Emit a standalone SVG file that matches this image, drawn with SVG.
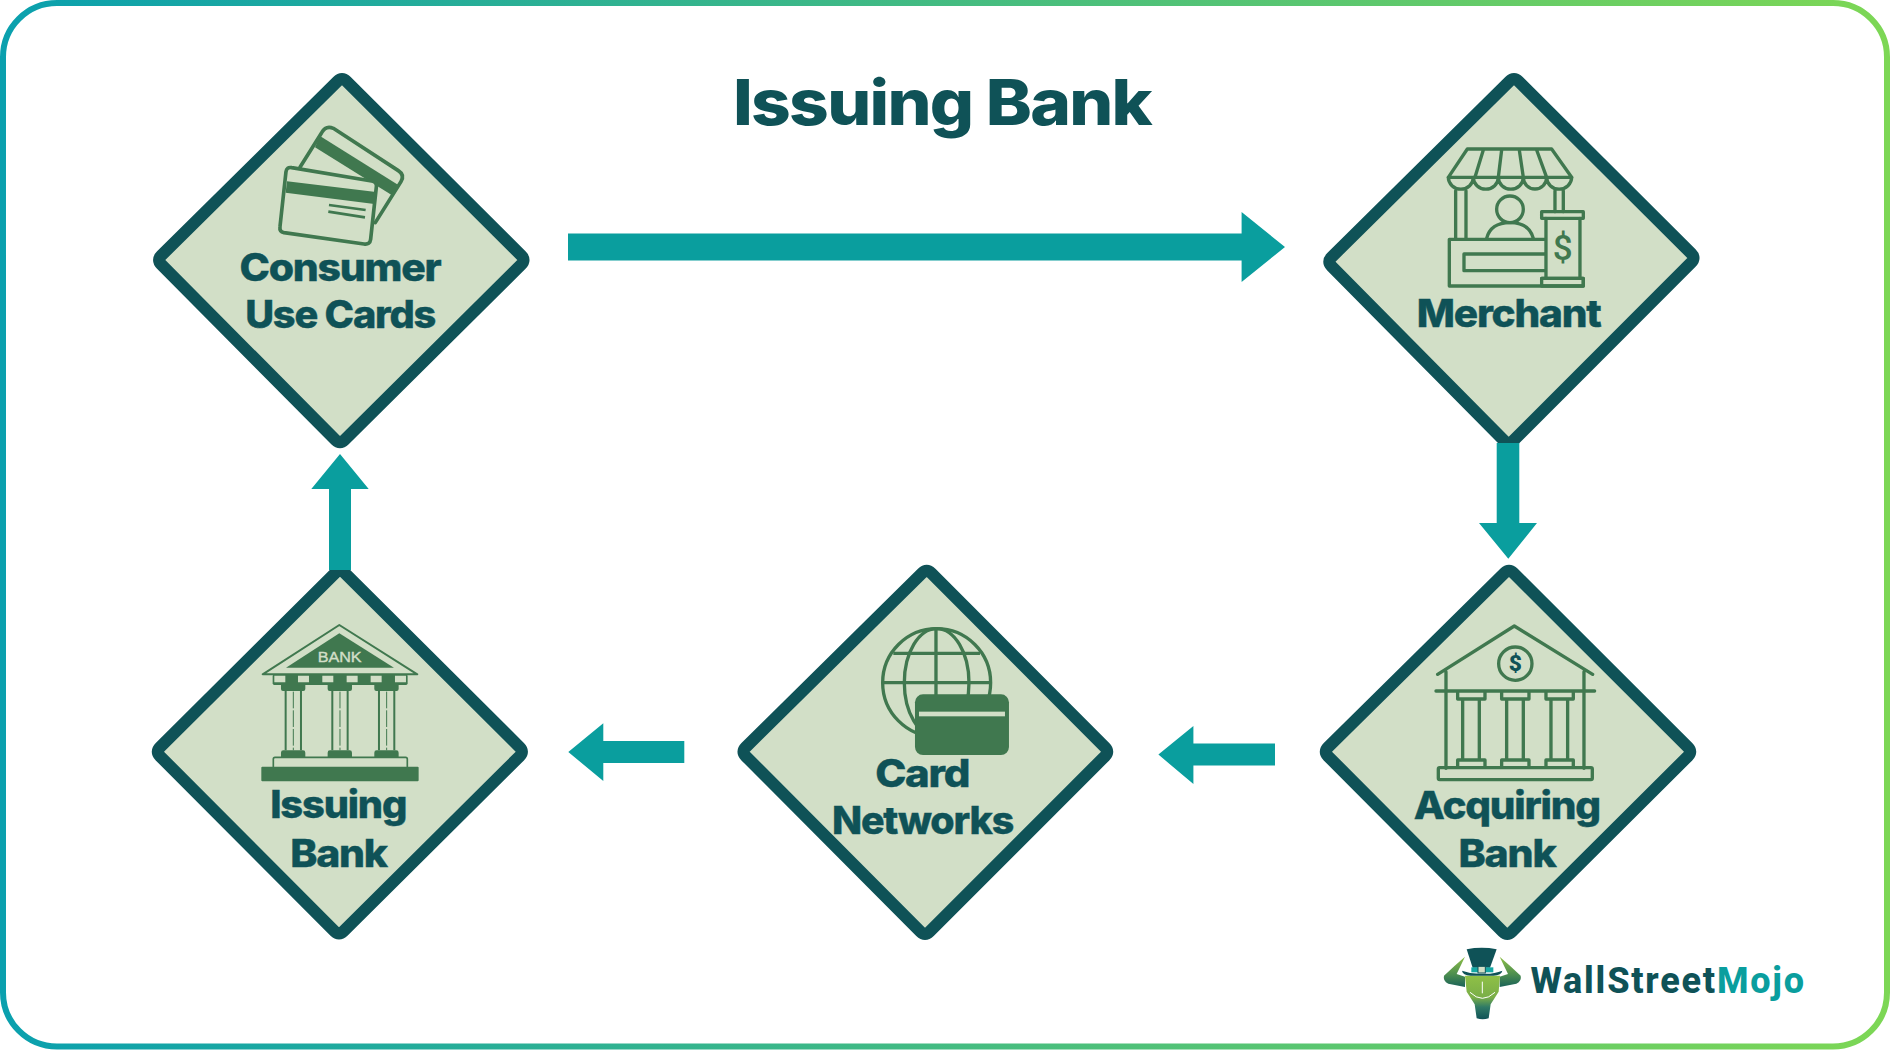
<svg xmlns="http://www.w3.org/2000/svg" width="1890" height="1050" viewBox="0 0 1890 1050">
<style>
.d{fill:#d2dfc7;stroke:#0f5257;stroke-width:12;stroke-linejoin:round}
.t{font-family:"Inter","Liberation Sans",sans-serif;font-weight:800;font-size:38px;letter-spacing:-.03em;fill:#0f5257;stroke:#0f5257;stroke-width:.4}
.i{fill:none;stroke:#40784f;stroke-width:10;stroke-linecap:round;stroke-linejoin:round}
.f{fill:#40784f}
.l{fill:#d2dfc7}
.a{fill:#0a9e9e}
.dl{font-family:"Roboto","Liberation Sans",sans-serif}
</style>
<defs>
<linearGradient id="bg" gradientUnits="userSpaceOnUse" x1="0" y1="0" x2="1890" y2="0">
<stop offset="0" stop-color="#0aa0ae"/><stop offset="1" stop-color="#7dd755"/>
</linearGradient>
<linearGradient id="bull" x1="0" y1="0" x2="0" y2="1">
<stop offset="0" stop-color="#8fc046"/><stop offset=".5" stop-color="#7aae48"/><stop offset=".72" stop-color="#2f7a66"/><stop offset="1" stop-color="#0f5257"/>
</linearGradient>
<linearGradient id="arm" x1="0" y1="0" x2="0" y2="1">
<stop offset="0" stop-color="#8fc046"/><stop offset=".6" stop-color="#4a8c50"/><stop offset="1" stop-color="#1a6258"/>
</linearGradient>
</defs>
<rect id="frame" x="3" y="3" width="1884" height="1043.500" rx="54" fill="#fff" stroke="url(#bg)" stroke-width="6"/>
<text id="title" x="733" y="125" textLength="418" lengthAdjust="spacingAndGlyphs" style="font-family:'Inter','Liberation Sans',sans-serif;font-weight:800;font-size:63px;letter-spacing:-.025em;fill:#0f5257">Issuing Bank</text>

<g id="node-consumer">
<path class="d" d="M346.500 81.300L521.300 255.500Q525.800 260 521.300 264.500L344.500 440Q340 444.500 335.500 440L161.300 264.500Q156.800 260 161.300 255.500L337.500 81.300Q342 76.800 346.500 81.300Z"/>
<g transform="translate(140,60) scale(.3333)">
<path d="M480 322L545 218Q558 195 580 205L775 332Q795 345 783 365L706 488" class="i" style="stroke-width:11;fill:#d2dfc7"/>
<path class="f" d="M540 228L775 375L755 405L525 262Z"/>
<path d="M455 323L695 363Q712 366 709 382L692 538Q690 555 672 552L432 518Q418 515 420 500L438 335Q440 320 455 323Z" class="i" style="stroke-width:11;fill:#d2dfc7"/>
<path class="f" d="M441 364L708 396L703 432L437 398Z"/>
<path class="i" style="stroke-width:8;stroke-linecap:butt" d="M567 435L677 450M565 455L675 472"/>
</g>
<text class="t" x="239.500" y="280.700" textLength="201" lengthAdjust="spacingAndGlyphs">Consumer</text>
<text class="t" x="245.200" y="328.300" textLength="190" lengthAdjust="spacingAndGlyphs">Use Cards</text>
</g>

<g id="node-merchant">
<path class="d" d="M1518.500 81.300L1691.300 253.500Q1695.800 258 1691.300 262.500L1513.200 440.700Q1508.700 445.200 1504.200 440.700L1331.500 266.200Q1327 261.700 1331.500 257.200L1509.500 81.300Q1514 76.800 1518.500 81.300Z"/>
<g transform="translate(1310,60) scale(.3333)">
<path class="i" d="M472 267H725L785 352H415ZM520 270L495 352M575 270L565 352M628 270L640 352M680 270L710 352"/>
<path class="i" d="M415 352A37 35 0 0 0 490 352A37 35 0 0 0 565 352A37 35 0 0 0 640 352A35 35 0 0 0 710 352A37 35 0 0 0 785 352"/>
<path class="i" d="M437 392V535M468 392V535M735 392V455M760 392V455"/>
<circle class="i" cx="600" cy="448" r="40"/>
<path class="i" d="M530 535Q542 488 600 488Q658 488 670 535"/>
<path class="i" d="M705 538H418V678H820V655H695M705 582H462V632H705"/>
<path class="i" d="M708 475V652M810 475V652"/>
<path class="i" d="M695 455H820V475H695Z"/>
<path class="i" d="M695 655H820V678H695Z"/>
<text x="758" y="600" text-anchor="middle" class="dl" style="font-size:105px;font-weight:500;fill:#40784f">$</text>
</g>
<text class="t" x="1416.800" y="326.700" textLength="183.700" lengthAdjust="spacingAndGlyphs">Merchant</text>
</g>

<g id="node-acquiring-bank">
<path class="d" d="M1513.500 573L1688 747.200Q1692.500 751.700 1688 756.200L1511.800 931.700Q1507.300 936.200 1502.800 931.700L1328 756.200Q1323.500 751.700 1328 747.200L1504.500 573Q1509 568.500 1513.500 573Z"/>
<g transform="translate(1310,555) scale(.3333)">
<path class="i" d="M383 358L613 213L848 358M408 350V640M822 350V640M378 408H854"/>
<circle class="i" cx="616" cy="326" r="50"/>
<text x="616" y="349" text-anchor="middle" class="dl" style="font-size:68px;font-weight:900;fill:#0f5257">$</text>
<path class="i" d="M443 412V432H525V412M458 432V615M508 432V615M443 635V615H525V635"/>
<path class="i" d="M575 412V432H657V412M590 432V615M640 432V615M575 635V615H657V635"/>
<path class="i" d="M708 412V432H790V412M723 432V615M773 432V615M708 635V615H790V635"/>
<rect class="i" x="385" y="638" width="462" height="36" rx="4"/>
</g>
<text class="t" x="1413.800" y="819" textLength="186" lengthAdjust="spacingAndGlyphs">Acquiring</text>
<text class="t" x="1458.500" y="866.700" textLength="97" lengthAdjust="spacingAndGlyphs">Bank</text>
</g>

<g id="node-card-networks">
<path class="d" d="M931.200 573L1105 747.200Q1109.500 751.700 1105 756.200L929.500 931.700Q925 936.200 920.500 931.700L745.700 756.200Q741.200 751.700 745.700 747.200L922.200 573Q926.700 568.500 931.200 573Z"/>
<g transform="translate(725,555) scale(.3333)">
<circle class="i" cx="635" cy="383" r="162"/>
<ellipse class="i" cx="635" cy="383" rx="97" ry="162"/>
<path class="i" style="stroke-linecap:butt" d="M633 221V430M505 295H765M473 383H797"/>
<rect class="f" x="570" y="418" width="282" height="182" rx="24"/>
<rect class="l" x="582" y="470" width="258" height="14"/>
</g>
<text class="t" x="875.200" y="786.700" textLength="94" lengthAdjust="spacingAndGlyphs">Card</text>
<text class="t" x="832" y="834.300" textLength="181" lengthAdjust="spacingAndGlyphs">Networks</text>
</g>

<g id="node-issuing-bank">
<path class="d" d="M344.500 572.700L519.700 747.200Q524.200 751.700 519.700 756.200L343.500 931.300Q339 935.800 334.500 931.300L160 756.200Q155.500 751.700 160 747.200L335.500 572.700Q340 568.200 344.500 572.700Z"/>
<g transform="translate(140,560) scale(.3333)">
<path class="i" style="stroke-width:6" d="M598 195L368 343H832Z"/>
<path class="f" d="M598 220L438 323H762Z"/>
<text x="533" y="305" textLength="132" lengthAdjust="spacingAndGlyphs" style="font-family:'Liberation Sans',sans-serif;font-size:46px;fill:#d2dfc7;stroke:#d2dfc7;stroke-width:1.200">BANK</text>
<rect class="f" x="398" y="343" width="405" height="32" rx="5"/>
<path class="l" d="M403 347h33v20h-33zM474 347h33v20h-33zM547 347h33v20h-33zM620 347h33v20h-33zM692 347h33v20h-33zM765 347h33v20h-33z"/>
<path class="f" d="M423 375h73v12q0 6-6 6h-61q-6 0-6-6zM563 375h73v12q0 6-6 6h-61q-6 0-6-6zM703 375h73v12q0 6-6 6h-61q-6 0-6-6z"/>
<path class="f" d="M423 592v-14q0-7 7-7h59q7 0 7 7v14zM563 592v-14q0-7 7-7h59q7 0 7 7v14zM703 592v-14q0-7 7-7h59q7 0 7 7v14z"/>
<path class="i" style="stroke-width:6;stroke-linecap:butt" d="M437 393V571M483 393V571M577 393V571M623 393V571M717 393V571M763 393V571"/>
<path class="i" style="stroke-width:3;stroke-linecap:butt;stroke-dasharray:50 6" d="M460 395V571M600 395V571M740 395V571"/>
<path class="i" style="stroke-width:5" d="M400 620V597Q400 592 405 592H797Q802 592 802 597V620"/>
<rect class="f" x="364" y="620" width="472" height="44" rx="3"/>
</g>
<text class="t" x="270.200" y="818.300" textLength="136" lengthAdjust="spacingAndGlyphs">Issuing</text>
<text class="t" x="290.300" y="866.700" textLength="96.600" lengthAdjust="spacingAndGlyphs">Bank</text>
</g>

<g id="connectors">
<path class="a" d="M568 233.500H1241.600V212L1285 247L1241.600 282V260.500H568Z"/>
<path class="a" d="M1496.700 443H1519.300V523H1537L1508.300 558.700L1479 523H1496.700Z"/>
<path class="a" d="M1275 743.600H1193.400V726L1158.400 754.600L1193.400 784V765.600H1275Z"/>
<path class="a" d="M684.300 741H603.300V723.300L568.300 752L603.300 781V763H684.300Z"/>
<path class="a" d="M329 570V489H311.300L340 454L368.700 489H351V570Z"/>
</g>

<g id="logo">
<g transform="translate(1430,935) scale(.3333)">
<path fill="url(#arm)" d="M105 65Q70 95 42 122Q38 138 55 146L105 156V125L80 117Z"/>
<path fill="url(#arm)" d="M209 65Q244 95 272 122Q276 138 259 146L209 156V125L234 117Z"/>
<path fill="url(#bull)" d="M105 122H210L206 170L182 208L176 250Q158 256 140 250L134 208L110 170Z"/>
<path fill="none" stroke="#fff" stroke-width="3" d="M120 172Q157 208 195 172M157 140V175"/>
<path fill="#0f5257" d="M110 43Q155 34 200 43L180 98H128Z"/>
<path fill="#0f5257" d="M96 107Q125 118 157 116Q190 118 217 107Q215 120 190 122H122Q98 120 96 107Z"/>
<path fill="#14a8a4" d="M124 97H190V112H124Z"/>
<rect x="144" y="94" width="22" height="20" fill="#d2dfc7" stroke="#0f5257" stroke-width="3"/>
</g>
<text x="1530.500" y="992.700" textLength="273.500" style="font-family:'Roboto','Liberation Sans',sans-serif;font-weight:800;font-size:36px;fill:#0f5257">WallStreet<tspan style="fill:#0a9e9e">Mojo</tspan></text>
</g>
</svg>
